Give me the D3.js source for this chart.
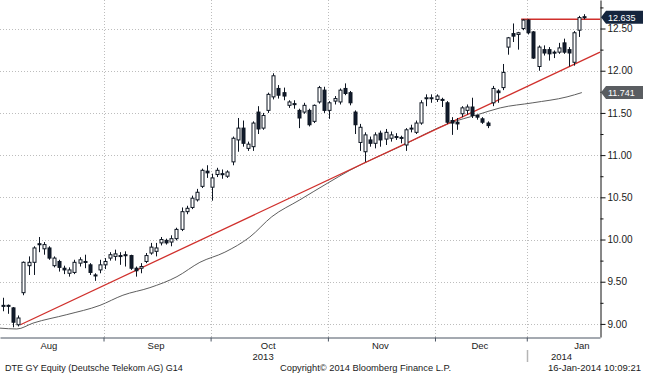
<!DOCTYPE html>
<html>
<head>
<meta charset="utf-8">
<script src="https://cdn.jsdelivr.net/npm/d3@7"></script>
<style>
  body { margin: 0; background: #fff; }
  text { font-family: "Liberation Sans", Arial, sans-serif; fill: #1a1a1a; }
</style>
</head>
<body>
<div id="chart"></div>
<script>
// Daily candles, index 0 = first session shown (early Aug 2013)
const opens = [
  9.22, 9.22, 9.19, 8.99, 9.37, 9.69, 9.73, 9.95, 9.89, 9.90,
  9.69, 9.74, 9.66, 9.60, 9.61, 9.72, 9.74, 9.70, 9.58, 9.64,
  9.70, 9.78, 9.80, 9.81, 9.82, 9.81, 9.66, 9.66, 9.74, 9.84,
  9.86, 9.96, 9.99, 9.97, 10.01, 10.12, 10.33, 10.38, 10.47, 10.63,
  10.81, 10.62, 10.77, 10.78, 10.75, 10.92, 11.18, 11.32, 11.08, 11.10,
  11.51, 11.32, 11.53, 11.69, 11.79, 11.74, 11.59, 11.61, 11.53, 11.51,
  11.53, 11.40, 11.63, 11.77, 11.53, 11.64, 11.63, 11.79, 11.74, 11.51,
  11.15, 11.04, 11.18, 11.14, 11.26, 11.19, 11.20, 11.22, 11.21, 11.12,
  11.31, 11.27, 11.38, 11.67, 11.67, 11.66, 11.66, 11.62, 11.41, 11.39,
  11.49, 11.53, 11.57, 11.47, 11.43, 11.38, 11.62, 11.76, 11.80, 12.28,
  12.44, 12.43, 12.50, 12.60, 12.46, 12.05, 12.25, 12.25, 12.22, 12.22,
  12.33, 12.25, 12.10, 12.48, 12.64
];
const highs = [
  9.31, 9.23, 9.20, 9.10, 9.74, 9.80, 9.92, 10.03, 9.97, 9.92,
  9.80, 9.76, 9.69, 9.67, 9.76, 9.79, 9.82, 9.72, 9.60, 9.76,
  9.78, 9.85, 9.88, 9.85, 9.86, 9.82, 9.68, 9.72, 9.84, 9.96,
  9.96, 10.03, 10.01, 10.05, 10.14, 10.38, 10.40, 10.52, 10.60, 10.84,
  10.88, 10.78, 10.85, 10.83, 10.82, 11.22, 11.44, 11.41, 11.16, 11.40,
  11.58, 11.50, 11.74, 11.97, 11.83, 11.80, 11.65, 11.65, 11.55, 11.62,
  11.55, 11.60, 11.82, 11.81, 11.64, 11.70, 11.79, 11.85, 11.76, 11.53,
  11.37, 11.27, 11.22, 11.27, 11.29, 11.31, 11.28, 11.26, 11.23, 11.32,
  11.36, 11.41, 11.65, 11.72, 11.72, 11.72, 11.68, 11.64, 11.45, 11.44,
  11.58, 11.60, 11.68, 11.48, 11.45, 11.40, 11.82, 11.78, 12.08, 12.40,
  12.56, 12.46, 12.61, 12.61, 12.47, 12.30, 12.30, 12.28, 12.24, 12.33,
  12.38, 12.28, 12.47, 12.65, 12.67
];
const lows = [
  9.15, 9.12, 8.96, 8.97, 9.34, 9.58, 9.58, 9.85, 9.82, 9.76,
  9.67, 9.62, 9.59, 9.56, 9.59, 9.68, 9.66, 9.58, 9.51, 9.60,
  9.65, 9.75, 9.75, 9.70, 9.68, 9.64, 9.56, 9.60, 9.72, 9.82,
  9.80, 9.93, 9.94, 9.92, 9.99, 10.10, 10.30, 10.36, 10.45, 10.61,
  10.73, 10.46, 10.74, 10.72, 10.73, 10.88, 11.04, 11.10, 11.05, 11.05,
  11.25, 11.30, 11.50, 11.66, 11.67, 11.65, 11.56, 11.55, 11.32, 11.49,
  11.34, 11.38, 11.61, 11.50, 11.43, 11.60, 11.60, 11.71, 11.59, 11.25,
  11.05, 10.92, 11.10, 11.08, 11.10, 11.12, 11.16, 11.18, 11.14, 11.05,
  11.27, 11.25, 11.36, 11.58, 11.62, 11.63, 11.57, 11.37, 11.24, 11.30,
  11.45, 11.48, 11.44, 11.42, 11.37, 11.32, 11.58, 11.62, 11.77, 12.19,
  12.34, 12.25, 12.48, 12.43, 12.14, 12.00, 12.18, 12.12, 12.15, 12.20,
  12.20, 12.05, 12.06, 12.40, 12.61
];
const closes = [
  9.21, 9.21, 9.02, 9.07, 9.73, 9.73, 9.90, 9.94, 9.94, 9.78,
  9.78, 9.67, 9.64, 9.64, 9.73, 9.76, 9.73, 9.61, 9.57, 9.70,
  9.74, 9.82, 9.83, 9.80, 9.81, 9.66, 9.63, 9.68, 9.81, 9.91,
  9.90, 10.00, 9.96, 10.01, 10.12, 10.33, 10.37, 10.49, 10.56, 10.82,
  10.79, 10.73, 10.82, 10.77, 10.80, 11.20, 11.32, 11.14, 11.13, 11.38,
  11.31, 11.47, 11.72, 11.94, 11.71, 11.70, 11.63, 11.60, 11.44, 11.59,
  11.36, 11.59, 11.80, 11.53, 11.62, 11.67, 11.77, 11.73, 11.62, 11.36,
  11.33, 11.24, 11.14, 11.24, 11.18, 11.27, 11.24, 11.21, 11.20, 11.30,
  11.32, 11.38, 11.62, 11.68, 11.68, 11.70, 11.65, 11.39, 11.38, 11.37,
  11.56, 11.57, 11.47, 11.45, 11.39, 11.35, 11.79, 11.74, 11.98, 12.39,
  12.41, 12.45, 12.60, 12.45, 12.15, 12.28, 12.21, 12.20, 12.21, 12.27,
  12.22, 12.21, 12.45, 12.63, 12.635
];

// moving average (candle index, price)
const maIdx = [-0.6, 2.7, 5.9, 12.5, 19, 23.5, 28.8, 34.1, 38.6, 43.5, 48.4,
               52.7, 58.2, 63.7, 68, 77.8, 87.6, 93.1, 97.5, 103.9, 110.6, 113.5];
const maVal = [8.95, 8.94, 9.01, 9.11, 9.22, 9.34, 9.43, 9.56, 9.73, 9.85, 10.03,
               10.27, 10.47, 10.67, 10.82, 11.10, 11.38, 11.48, 11.56, 11.62, 11.69, 11.741];

// drawn lines: rising trend and resistance
const trendIdx = [3.4, 117.06];
const trendVal = [8.99, 12.22];
const resistIdx = [101.6, 117.06];
const resistVal = 12.61;

// axis stuff
const monthStarts = [20, 41, 64, 85, 103];          // first session of Sep..Jan
const monthNames = ["Aug", "Sep", "Oct", "Nov", "Dec", "Jan"];
const monthCenters = [9, 30, 52, 74, 93.5, 113.5];
const yearNames = ["2013", "2014"];
const yearCenters = [51, 109.5];
const priceTicks = [9.0, 9.5, 10.0, 10.5, 11.0, 11.5, 12.0, 12.5];
const minorTicks = [9.25, 9.75, 10.25, 10.75, 11.25, 11.75, 12.25, 12.75];
const lastPrice = 12.635;
const lastMa = 11.741;

const W = 645, H = 374;
const plotW = 600, plotH = 337;

const svg = d3.select("#chart")
    .append("svg")
    .attr("width", W)
    .attr("height", H);

const x = d3.scaleLinear().domain([-0.6, 117.06]).range([0, plotW]);
const y = d3.scaleLinear().domain([8.845, 12.838]).range([plotH, 0]);

// grid
svg.append("g")
    .selectAll("line")
    .data(priceTicks)
    .join("line")
    .attr("x1", 0).attr("x2", plotW)
    .attr("y1", d => Math.round(y(d)) + 0.5)
    .attr("y2", d => Math.round(y(d)) + 0.5)
    .attr("stroke", "#bdbdbd")
    .attr("stroke-dasharray", "1,2");

svg.append("g")
    .selectAll("line")
    .data(monthStarts)
    .join("line")
    .attr("x1", d => Math.round(x(d - 0.3)) + 0.5)
    .attr("x2", d => Math.round(x(d - 0.3)) + 0.5)
    .attr("y1", 0).attr("y2", plotH)
    .attr("stroke", "#bdbdbd")
    .attr("stroke-dasharray", "1,2");

// moving average
svg.append("path")
    .datum(d3.zip(maIdx, maVal))
    .attr("d", d3.line().x(d => x(d[0])).y(d => y(d[1])).curve(d3.curveMonotoneX))
    .attr("fill", "none")
    .attr("stroke", "#5e5e5e")
    .attr("stroke-width", 1);

// trend line
svg.append("path")
    .datum(d3.zip(trendIdx, trendVal))
    .attr("d", d3.line().x(d => x(d[0])).y(d => y(d[1])))
    .attr("stroke", "#d0302c")
    .attr("stroke-width", 1.3)
    .attr("fill", "none");

// resistance line
svg.append("line")
    .attr("x1", x(resistIdx[0])).attr("x2", x(resistIdx[1]))
    .attr("y1", y(resistVal)).attr("y2", y(resistVal))
    .attr("stroke", "#d0302c")
    .attr("stroke-width", 1.3);

// candles
const candles = opens.map((o, i) => ({ i: i, o: o, h: highs[i], l: lows[i], c: closes[i] }));
const bodyW = 3;

const cg = svg.append("g").selectAll("g")
    .data(candles)
    .join("g");

cg.append("line")
    .attr("x1", d => Math.round(x(d.i)) + 0.5)
    .attr("x2", d => Math.round(x(d.i)) + 0.5)
    .attr("y1", d => y(d.h))
    .attr("y2", d => y(d.l))
    .attr("stroke", "#0e1622")
    .attr("stroke-width", 1);

cg.append("rect")
    .attr("x", d => Math.round(x(d.i)) - 1)
    .attr("width", bodyW)
    .attr("y", d => y(Math.max(d.o, d.c)))
    .attr("height", d => Math.max(1, Math.abs(y(d.o) - y(d.c))))
    .attr("fill", d => d.c >= d.o ? "#fff" : "#111b2c")
    .attr("stroke", "#0e1622")
    .attr("stroke-width", 1);

// right axis
const yAxis = d3.axisRight(y).tickValues(priceTicks).tickSize(5).tickSizeOuter(0)
    .tickFormat(d3.format(".2f"));
const ya = svg.append("g")
    .attr("transform", `translate(${plotW + 0.5},0)`)
    .call(yAxis);
ya.select(".domain").attr("stroke", "#111");
ya.selectAll(".tick line").attr("stroke", "#111");
ya.selectAll(".tick text")
    .attr("x", 7)
    .style("font-family", "'Liberation Sans', Arial, sans-serif")
    .style("font-size", "10px")
    .attr("fill", "#111");

const yMinor = d3.axisRight(y).tickValues(minorTicks).tickSize(3).tickSizeOuter(0).tickFormat("");
const ym = svg.append("g")
    .attr("transform", `translate(${plotW + 0.5},0)`)
    .call(yMinor);
ym.select(".domain").remove();
ym.selectAll(".tick line").attr("stroke", "#111");

// bottom axis
const xAxis = d3.axisBottom(x).tickValues(monthStarts.map(d => d - 0.3)).tickSize(4)
    .tickSizeOuter(0).tickFormat("");
const xa = svg.append("g")
    .attr("transform", `translate(0,${plotH + 0.5})`)
    .call(xAxis);
xa.select(".domain").attr("stroke", "#4b5563");
xa.selectAll(".tick line").attr("stroke", "#4b5563");

svg.append("g")
    .selectAll("text")
    .data(monthNames)
    .join("text")
    .attr("x", (d, k) => x(monthCenters[k]))
    .attr("y", 349)
    .attr("text-anchor", "middle")
    .style("font-size", "9.5px")
    .text(d => d);

svg.append("g")
    .selectAll("text")
    .data(yearNames)
    .join("text")
    .attr("x", (d, k) => x(yearCenters[k]))
    .attr("y", 360)
    .attr("text-anchor", "middle")
    .style("font-size", "9.5px")
    .text(d => d);

// year separator
svg.append("line")
    .attr("x1", Math.round(x(monthStarts[4] - 0.3)) + 0.5)
    .attr("x2", Math.round(x(monthStarts[4] - 0.3)) + 0.5)
    .attr("y1", 350).attr("y2", 362)
    .attr("stroke", "#b5b5b5")
    .attr("stroke-width", 1.5);

// last value tags
function priceTag(v, fill) {
    const cy = y(v);
    const g = svg.append("g");
    g.append("path")
        .attr("d", `M${plotW + 1},${cy} L${plotW + 6},${cy - 6.5} L${W - 2},${cy - 6.5} L${W - 2},${cy + 6.5} L${plotW + 6},${cy + 6.5} Z`)
        .attr("fill", fill);
    g.append("text")
        .attr("x", plotW + 8)
        .attr("y", cy + 3.5)
        .style("font-size", "9px")
        .style("fill", "#fff")
        .text(v.toFixed(3));
}
priceTag(lastPrice, "#15253d");
priceTag(lastMa, "#5a5d61");

// footer
const foot = svg.append("g");
foot.append("text").attr("x", 5).attr("y", 371).style("font-size", "9px")
    .text("DTE GY Equity (Deutsche Telekom AG) G14");
foot.append("text").attr("x", 280).attr("y", 371).style("font-size", "9.3px")
    .text("Copyright\u00A9 2014 Bloomberg Finance L.P.");
foot.append("text").attr("x", 641).attr("y", 371).attr("text-anchor", "end")
    .style("font-size", "9.5px")
    .text("16-Jan-2014 10:09:21");
</script>
</body>
</html>
